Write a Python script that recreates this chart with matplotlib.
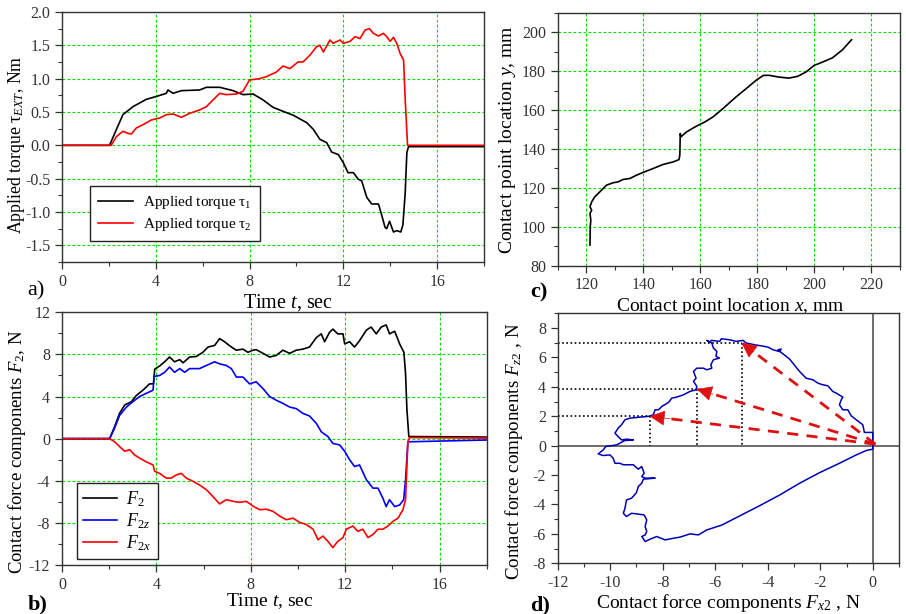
"""Four-panel figure: applied torques, contact forces, contact point path
and the force-component plane with the force direction arrows."""
import matplotlib
matplotlib.use("Agg")
import matplotlib.pyplot as plt
from matplotlib.ticker import MultipleLocator, FormatStrFormatter

plt.rcParams.update({
    "font.family": ["Liberation Serif", "DejaVu Serif"],
    "mathtext.fontset": "custom",
    "mathtext.rm": "Liberation Serif",
    "mathtext.it": "Liberation Serif:italic",
    "axes.unicode_minus": False,
    "font.size": 11,
})

# -----------------------------------------------------------------------------
# Data
# -----------------------------------------------------------------------------
# a) applied torques
t_tau1 = [0, 2.03, 2.25, 2.6, 3.03, 3.6, 4.0, 4.45, 4.52, 4.74,
          5.1, 5.87, 6.16, 6.73, 7.3, 7.72, 8.15, 8.58, 9.0, 9.43,
          9.87, 10.44, 10.72, 11.0, 11.29, 11.5, 11.79, 12.0, 12.2, 12.43,
          12.64, 12.78, 13.0, 13.21, 13.5, 13.64, 13.78, 13.85, 13.97, 14.14,
          14.28, 14.45, 14.54, 14.64, 14.71, 14.78, 18]
tau1 = [0, 0, 0.18, 0.46, 0.58, 0.69, 0.73, 0.78, 0.83, 0.78,
        0.82, 0.83, 0.87, 0.87, 0.82, 0.76, 0.77, 0.68, 0.57, 0.51,
        0.45, 0.34, 0.24, 0.09, 0.04, -0.1, -0.14, -0.26, -0.41, -0.41,
        -0.51, -0.53, -0.78, -0.88, -0.88, -1.05, -1.23, -1.25, -1.14, -1.3,
        -1.28, -1.3, -1.2, -0.71, -0.11, -0.02, -0.02]
t_tau2 = [0, 2.1, 2.32, 2.6, 2.82, 2.96, 3.17, 3.46, 3.81, 4.17,
          4.45, 4.74, 5.09, 5.45, 5.87, 6.16, 6.44, 6.73, 7.0, 7.44,
          7.72, 8.0, 8.43, 8.72, 9.15, 9.43, 9.72, 10.07, 10.28, 10.57,
          10.86, 11.0, 11.15, 11.43, 11.57, 11.86, 12.0, 12.29, 12.5, 12.71,
          12.93, 13.11, 13.28, 13.5, 13.71, 13.85, 14.0, 14.14, 14.28, 14.42,
          14.57, 14.64, 14.74, 18]
tau2 = [0, 0, 0.13, 0.21, 0.18, 0.17, 0.26, 0.31, 0.38, 0.41,
        0.46, 0.47, 0.42, 0.48, 0.53, 0.58, 0.68, 0.78, 0.76, 0.77,
        0.81, 0.98, 1.0, 1.03, 1.1, 1.19, 1.15, 1.25, 1.25, 1.35,
        1.48, 1.5, 1.4, 1.58, 1.53, 1.58, 1.53, 1.56, 1.63, 1.6,
        1.73, 1.75, 1.68, 1.64, 1.68, 1.63, 1.56, 1.62, 1.53, 1.38,
        1.28, 0.69, 0.0, 0.0]

# b) contact force components vs time
t_f2 = [0, 2.02, 2.23, 2.44, 2.66, 2.94, 3.15, 3.43, 3.71, 3.88,
        3.93, 4.14, 4.35, 4.56, 4.77, 4.99, 5.13, 5.41, 5.69, 5.97,
        6.19, 6.47, 6.68, 6.89, 7.18, 7.39, 7.67, 7.88, 8.09, 8.23,
        8.52, 8.8, 9.08, 9.36, 9.65, 9.93, 10.21, 10.49, 10.78, 10.99,
        11.13, 11.34, 11.48, 11.69, 11.91, 11.98, 12.19, 12.4, 12.61, 12.9,
        13.1, 13.32, 13.53, 13.74, 13.88, 14.1, 14.31, 14.49, 14.56, 14.62,
        14.7, 18]
f2 = [0, 0, 1.13, 2.4, 3.2, 3.5, 4.1, 4.6, 5.2, 5.2,
      6.6, 6.9, 7.3, 7.75, 7.3, 7.5, 7.2, 7.75, 7.8, 8.2,
      8.7, 8.85, 9.5, 9.2, 8.7, 8.4, 8.5, 8.2, 8.4, 8.45,
      8.1, 7.75, 7.9, 8.4, 8.1, 8.4, 8.5, 8.7, 9.6, 9.95,
      9.2, 10.1, 10.4, 9.95, 9.95, 9.0, 9.2, 8.7, 9.3, 10.3,
      10.6, 9.95, 10.6, 10.8, 9.95, 10.2, 9.0, 8.2, 6.2, 2.7,
      0.2, 0.15]
t_f2z = [0, 2.02, 2.23, 2.44, 2.73, 3.0, 3.29, 3.57, 3.86, 3.9,
         4.14, 4.35, 4.56, 4.77, 4.99, 5.2, 5.41, 5.83, 6.12, 6.47,
         6.68, 6.96, 7.18, 7.39, 7.67, 7.95, 8.23, 8.52, 8.8, 9.08,
         9.36, 9.65, 9.93, 10.21, 10.49, 10.78, 10.99, 11.27, 11.48, 11.77,
         11.98, 12.19, 12.4, 12.61, 12.9, 13.18, 13.39, 13.6, 13.74, 13.88,
         14.1, 14.31, 14.48, 14.56, 14.66, 18]
f2z = [0, 0, 1.0, 2.2, 3.0, 3.5, 4.0, 4.3, 4.6, 5.9,
       6.0, 6.3, 6.8, 6.3, 6.65, 6.3, 6.65, 6.65, 6.95, 7.3,
       7.1, 6.95, 6.65, 5.85, 5.85, 5.2, 5.4, 4.75, 4.0, 3.65,
       3.35, 3.0, 2.85, 2.4, 2.15, 1.45, 0.65, 0.2, -0.45, -0.6,
       -1.2, -2.0, -2.65, -2.5, -3.9, -4.7, -4.7, -5.65, -6.45, -5.8,
       -6.45, -6.3, -5.8, -3.9, -0.3, -0.13]
t_f2x = [0, 2.02, 2.23, 2.44, 2.66, 2.87, 3.08, 3.29, 3.57, 3.86,
         3.93, 4.14, 4.42, 4.63, 4.84, 5.06, 5.27, 5.55, 5.83, 6.12,
         6.4, 6.68, 6.96, 7.25, 7.53, 7.81, 8.09, 8.38, 8.66, 8.94,
         9.22, 9.51, 9.79, 10.07, 10.35, 10.64, 10.85, 11.06, 11.27, 11.48,
         11.69, 11.91, 12.05, 12.33, 12.54, 12.75, 12.97, 13.18, 13.39, 13.6,
         13.81, 14.03, 14.24, 14.45, 14.56, 14.66, 14.73, 18]
f2x = [0, 0, -0.3, -0.75, -1.2, -1.05, -1.55, -1.85, -2.2, -2.5,
       -3.1, -3.3, -3.75, -3.75, -3.45, -3.3, -3.75, -4.05, -4.4, -4.85,
       -5.5, -6.2, -5.8, -5.95, -6.05, -5.95, -6.4, -6.75, -6.7, -6.9,
       -7.35, -7.7, -7.55, -7.95, -8.15, -8.6, -9.6, -9.25, -9.75, -10.35,
       -9.75, -9.4, -8.6, -8.3, -8.8, -8.6, -9.4, -9.1, -8.6, -8.6,
       -8.3, -7.85, -7.55, -6.75, -5.8, -0.3, 0.1, 0.05]

# c) contact point path, mm
cp_x = [121.3, 121.4, 121.6, 121.3, 121.9, 121.3, 121.9, 123.0, 124.8, 127.1,
        129.4, 131.2, 132.9, 135.3, 137.6, 139.9, 143.4, 146.9, 150.4, 152.5,
        152.8, 152.96, 153.2, 155.1, 158.5, 161.5, 164.4, 167.9, 172.5, 176.0,
        179.5, 182.1, 184.2, 187.6, 191.1, 194.1, 197.0, 199.9, 202.8, 206.3,
        209.8, 213.0]
cp_y = [90.6, 100, 103.4, 106.8, 108.5, 110.3, 112.8, 115.4, 118, 121.4,
        122.6, 123.1, 124.3, 124.8, 126.5, 127.9, 129.9, 132, 133.3, 134.5,
        136.8, 147.9, 146.2, 148.7, 151.6, 153.8, 156.4, 160.7, 166.7, 170.9,
        175.2, 177.8, 177.8, 176.9, 176.4, 177.3, 179.5, 182.9, 184.6, 186.8,
        190.9, 196.1]

# d) force components plane, N
fx_path = [0, 0, -0.32, -0.38, -0.63, -0.82, -0.95, -1.14, -1.27, -1.2,
           -1.14, -1.39, -1.52, -1.71, -1.9, -2.09, -2.28, -2.54, -2.79, -3.17,
           -3.49, -3.61, -3.49, -3.55, -3.8, -3.99, -4.25, -4.5, -4.82, -4.94,
           -5.2, -5.45, -5.77, -5.83, -6.15, -6.22, -6.32, -6.13, -6.07, -5.94,
           -5.97, -5.84, -6.07, -6.17, -6.13, -6.32, -6.45, -6.7, -6.83, -6.73,
           -6.83, -6.7, -6.73, -6.96, -7.21, -7.47, -7.66, -7.78, -8.04, -8.16,
           -8.29, -8.36, -8.55, -8.87, -9.25, -9.44, -9.57, -9.7, -9.82, -9.7,
           -9.57, -9.38, -9.12, -9.44, -9.76, -10.17, -10.27, -10.46, -10.27, -10.01,
           -9.89, -9.82, -9.63, -9.5, -9.12, -8.93, -8.8, -8.71, -8.8, -8.67,
           -8.29, -8.74, -8.8, -8.93, -9.0, -9.19, -9.38, -9.44, -9.5, -9.38,
           -9.19, -9.0, -8.71, -8.61, -8.67, -8.61, -8.67, -8.8, -8.67, -8.48,
           -8.23, -7.91, -7.66, -7.34, -6.96, -6.64, -6.32, -5.75, -5.06, -4.37,
           -3.55, -2.79, -2.03, -1.27, -0.63, -0.25, 0, 0]
fz_path = [0, 0.9, 0.9, 1.42, 1.76, 2.03, 2.44, 2.44, 2.78, 3.12,
           3.3, 3.57, 3.68, 4.07, 4.14, 4.25, 4.48, 4.59, 5.05, 5.89,
           6.34, 6.52, 6.57, 6.4, 6.52, 6.7, 6.79, 6.86, 6.98, 7.16,
           7.09, 7.2, 7.27, 7.09, 7.16, 7.02, 7.16, 6.98, 6.64, 6.41,
           6.07, 5.96, 5.84, 5.5, 5.27, 5.16, 5.27, 5.27, 5.05, 4.59,
           4.37, 4.03, 3.8, 3.69, 3.46, 3.3, 3.23, 2.94, 2.66, 2.44,
           2.44, 2.1, 1.99, 1.94, 1.87, 1.76, 1.42, 1.19, 0.85, 0.62,
           0.39, 0.44, 0.39, 0.35, 0.05, -0.06, -0.29, -0.56, -0.67, -0.63,
           -0.85, -1.2, -1.2, -1.3, -1.3, -1.6, -1.42, -1.87, -2.1, -2.21,
           -2.21, -2.28, -2.55, -2.78, -3.19, -3.58, -3.69, -4.26, -4.6, -4.82,
           -4.6, -4.64, -4.71, -5.05, -5.5, -5.84, -6.07, -6.18, -6.52, -6.36,
           -6.18, -6.41, -6.32, -6.22, -6.0, -6.07, -5.73, -5.4, -4.77, -4.14,
           -3.36, -2.56, -1.84, -1.2, -0.63, -0.33, -0.24, 0]

# force direction arrows (tips) and their common start point
arrow_fx = [-5.0, -6.7, -8.5]
arrow_fz = [7.0, 3.85, 2.0]
arrow_start = (0.1, 0.1)

GRID = dict(color="#00e000", linestyle=(0, (2.5, 2)), linewidth=0.8)


def style_axes(ax, xmaj, xmin, ymaj, ymin, grid=True):
    ax.xaxis.set_major_locator(MultipleLocator(xmaj))
    ax.xaxis.set_minor_locator(MultipleLocator(xmin))
    ax.yaxis.set_major_locator(MultipleLocator(ymaj))
    ax.yaxis.set_minor_locator(MultipleLocator(ymin))
    ax.tick_params(which="major", direction="out", length=5, width=0.9,
                   labelsize=11.5, colors="#333333")
    ax.tick_params(which="minor", direction="out", length=3, width=0.8,
                   colors="#333333")
    for s in ax.spines.values():
        s.set_linewidth(1.0)
        s.set_color("#333333")
    if grid:
        ax.grid(True, which="major", **GRID)
        ax.set_axisbelow(True)


def boxed_legend(ax, anchor, **kw):
    leg = ax.legend(loc="upper left", bbox_to_anchor=anchor, borderaxespad=0,
                    frameon=True, fancybox=False, edgecolor="#222222",
                    framealpha=1, **kw)
    leg.get_frame().set_linewidth(1.0)
    return leg


fig = plt.figure(figsize=(9.06, 6.14), dpi=100)
ax_a = fig.add_axes([0.0684, 0.5733, 0.4658, 0.4072])
ax_c = fig.add_axes([0.6156, 0.5673, 0.3778, 0.4120])
ax_b = fig.add_axes([0.0684, 0.0798, 0.4688, 0.4116])
ax_d = fig.add_axes([0.6156, 0.0826, 0.3767, 0.4071])

# -----------------------------------------------------------------------------
# a) applied torques
# -----------------------------------------------------------------------------
ax_a.plot(t_tau1, tau1, color="black", lw=1.2, label=r"Applied torque $\mathrm{\tau}_{1}$")
ax_a.plot(t_tau2, tau2, color="red", lw=1.2, label=r"Applied torque $\mathrm{\tau}_{2}$")
ax_a.set_xlim(0, 18)
ax_a.set_ylim(-1.75, 2.0)
style_axes(ax_a, 4, 2, 0.5, 0.25)
ax_a.yaxis.set_major_formatter(FormatStrFormatter("%.1f"))
ax_a.set_xlabel(r"Time $t$, sec", fontsize=14.5)
ax_a.xaxis.set_label_coords(0.536, -0.12)
ax_a.set_ylabel(r"Applied torque $\mathrm{\tau}_{EXT}$, Nm", fontsize=12.8)
ax_a.yaxis.set_label_coords(-0.082, 0.47)
boxed_legend(ax_a, (0.066, 0.304), fontsize=11, handlelength=2.3,
             labelspacing=0.3, borderpad=0.55, handletextpad=0.6)

# -----------------------------------------------------------------------------
# b) contact force components vs time
# -----------------------------------------------------------------------------
ax_b.plot(t_f2, f2, color="black", lw=1.2, label=r"$F_{2}$")
ax_b.plot(t_f2z, f2z, color="blue", lw=1.2, label=r"$F_{2z}$")
ax_b.plot(t_f2x, f2x, color="red", lw=1.2, label=r"$F_{2x}$")
ax_b.set_xlim(0, 18)
ax_b.set_ylim(-12, 12)
style_axes(ax_b, 4, 2, 4, 2)
ax_b.set_xlabel(r"Time $t$, sec", fontsize=14)
ax_b.xaxis.set_label_coords(0.49, -0.104)
ax_b.set_ylabel(r"Contact force components $F_{2}$, N", fontsize=13.5)
ax_b.yaxis.set_label_coords(-0.08, 0.45)
boxed_legend(ax_b, (0.035, 0.3245), fontsize=13, handlelength=1.9,
             labelspacing=0.12, borderpad=0.35, handletextpad=0.5)

# -----------------------------------------------------------------------------
# c) contact point path
# -----------------------------------------------------------------------------
ax_c.plot(cp_x, cp_y, color="black", lw=1.2)
ax_c.set_xlim(110, 230)
ax_c.set_ylim(80, 210)
style_axes(ax_c, 20, 10, 20, 10)
ax_c.set_xlabel(r"Contact point location $x$, mm", fontsize=14)
ax_c.xaxis.set_label_coords(0.505, -0.12)
ax_c.set_ylabel(r"Contact point location $y$, mm", fontsize=14)
ax_c.yaxis.set_label_coords(-0.115, 0.5)

# -----------------------------------------------------------------------------
# d) force components plane
# -----------------------------------------------------------------------------
ax_d.axhline(0, color="#555555", lw=1.2, zorder=1)
ax_d.axvline(0, color="#555555", lw=1.2, zorder=1)
for x_tip, z_tip in zip(arrow_fx, arrow_fz):
    ax_d.plot([-12, x_tip], [z_tip, z_tip], color="black", lw=1.2,
              linestyle=(0, (1, 1.5)), zorder=2)
    ax_d.plot([x_tip, x_tip], [z_tip, 0], color="black", lw=1.2,
              linestyle=(0, (1, 1.5)), zorder=2)
ax_d.plot(fx_path, fz_path, color="#0000b4", lw=1.1, zorder=3)
for x_tip, z_tip in zip(arrow_fx, arrow_fz):
    ax_d.plot([arrow_start[0], x_tip], [arrow_start[1], z_tip], color="#dd1111",
              lw=2.0, linestyle=(0, (4, 3)), zorder=4)
    dx = arrow_start[0] - x_tip
    dz = arrow_start[1] - z_tip
    ax_d.annotate("", xy=(x_tip, z_tip),
                  xytext=(x_tip + 0.09 * dx, z_tip + 0.09 * dz),
                  arrowprops=dict(arrowstyle="-|>,head_length=0.9,head_width=0.45",
                                  color="#dd1111", lw=0.5, shrinkA=0, shrinkB=0),
                  zorder=5)
ax_d.set_xlim(-12, 1)
ax_d.set_ylim(-8, 9)
style_axes(ax_d, 2, 1, 2, 1, grid=False)
ax_d.set_xlabel(r"Contact force components $F_{x2}$ , N", fontsize=14)
ax_d.xaxis.set_label_coords(0.5, -0.115)
ax_d.set_ylabel(r"Contact force components $F_{z2}$ , N", fontsize=13.7)
ax_d.yaxis.set_label_coords(-0.095, 0.45)

# panel letters
fig.text(27 / 906, 1 - 295 / 614, "a)", fontsize=16)
fig.text(28 / 906, 1 - 609 / 614, "b)", fontsize=16, fontweight="bold")
fig.text(530 / 906, 1 - 297 / 614, "c)", fontsize=16, fontweight="bold")
fig.text(530 / 906, 1 - 610 / 614, "d)", fontsize=16, fontweight="bold")

fig.savefig("out.png", dpi=100)
